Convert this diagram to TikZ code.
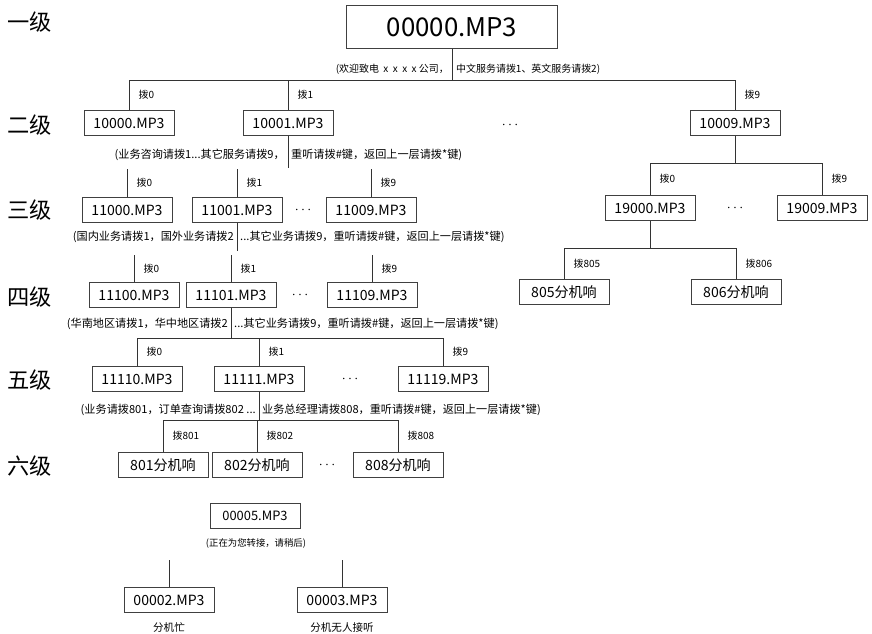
\documentclass[tikz,border=0pt]{standalone}
\usepackage{fontspec}
\setmainfont{Noto Sans CJK SC}
\usetikzlibrary{positioning}

\begin{document}
\begin{tikzpicture}[x=0.03cm, y=-0.03cm,
    box/.style={draw=black!75, line width=0.5pt, minimum width=2.7cm, minimum height=0.75cm, inner sep=0pt, font=\fontsize{12}{14}\selectfont},
    bigbox/.style={box, minimum width=6.33cm, minimum height=1.29cm, font=\fontsize{22}{26}\selectfont},
    tier/.style={anchor=west, inner sep=0pt, font=\fontsize{19}{22}\selectfont},
    hint/.style={inner sep=0pt, font=\fontsize{9.5}{11}\selectfont},
    dial/.style={anchor=west, inner sep=0pt, xshift=8pt, font=\fontsize{8.5}{10}\selectfont},
    gap/.style={inner sep=0pt, font=\fontsize{12}{14}\selectfont},
    link/.style={draw=black!80, line width=0.6pt}
]
\useasboundingbox (0,0) rectangle (872,633);

% level names
\node[tier] (lv1) at (7,22) {一级};
\node[tier] (lv2) at (7,125) {二级};
\node[tier] (lv3) at (7,210) {三级};
\node[tier] (lv4) at (7,297) {四级};
\node[tier] (lv5) at (7,380) {五级};
\node[tier] (lv6) at (7,466) {六级};

% first and second level
\node[bigbox] (m00000) at (452,27) {00000.MP3};
\node[hint, anchor=east, font=\fontsize{8.5}{10}\selectfont] (cap1l) at (449,69) {(欢迎致电\ \ x\ \ x\ \ x\ \ x\ 公司，};
\node[hint, anchor=west, font=\fontsize{8.5}{10}\selectfont] (cap1r) at (456,69) {中文服务请拨1、英文服务请拨2)};
\node[box] (m10000) at (129,123) {10000.MP3};
\node[box] (m10001) at (288,123) {10001.MP3};
\node[gap] (d2) at (510,125) {$\cdots$};
\node[box] (m10009) at (735,123) {10009.MP3};

\draw[link] (m00000.south) -- ++(0,32);
\draw[link] (m10000.north) -- node[dial]{拨0} ++(0,-30) -| node[dial, pos=0.75]{拨9} (m10009.north);
\draw[link] (m10001.north) -- node[dial]{拨1} ++(0,-30);

% third level
\node[hint, anchor=east] (cap2l) at (285,155) {(业务咨询请拨1...其它服务请拨9，};
\node[hint, anchor=west] (cap2r) at (291,155) {重听请拨\#键，返回上一层请拨*键)};
\node[box] (m11000) at (127,210) {11000.MP3};
\node[box] (m11001) at (237,210) {11001.MP3};
\node[gap] (d3) at (303,210) {$\cdots$};
\node[box] (m11009) at (371,210) {11009.MP3};

\draw[link] (m10001.south) -- ++(0,32);
\draw[link] (m11000.north) -- node[dial]{拨0} ++(0,-28);
\draw[link] (m11001.north) -- node[dial]{拨1} ++(0,-28);
\draw[link] (m11009.north) -- node[dial]{拨9} ++(0,-28);

% branch under 10009
\node[box] (m19000) at (650,208) {19000.MP3};
\node[gap] (d3r) at (735,208) {$\cdots$};
\node[box] (m19009) at (822,208) {19009.MP3};
\node[box] (m805) at (564,292) {805分机响};
\node[box] (m806) at (736,292) {806分机响};

\draw[link] (m10009.south) -- ++(0,28);
\draw[link] (m19000.north) -- node[dial]{拨0} ++(0,-32) -| node[dial, pos=0.75]{拨9} (m19009.north);
\draw[link] (m19000.south) -- ++(0,28);
\draw[link] (m805.north) -- node[dial]{拨805} ++(0,-31) -| node[dial, pos=0.75]{拨806} (m806.north);

% fourth level
\node[hint, anchor=east] (cap3l) at (234,237) {(国内业务请拨1，国外业务请拨2};
\node[hint, anchor=west] (cap3r) at (240,237) {...其它业务请拨9，重听请拨\#键，返回上一层请拨*键)};
\node[box] (m11100) at (134,295) {11100.MP3};
\node[box] (m11101) at (231,295) {11101.MP3};
\node[gap] (d4) at (300,295) {$\cdots$};
\node[box] (m11109) at (372,295) {11109.MP3};

\draw[link] (m11001.south) -- ++(0,28);
\draw[link] (m11100.north) -- node[dial]{拨0} ++(0,-27);
\draw[link] (m11101.north) -- node[dial]{拨1} ++(0,-27);
\draw[link] (m11109.north) -- node[dial]{拨9} ++(0,-27);

% fifth level
\node[hint, anchor=east] (cap4l) at (228,324) {(华南地区请拨1，华中地区请拨2};
\node[hint, anchor=west] (cap4r) at (234,324) {...其它业务请拨9，重听请拨\#键，返回上一层请拨*键)};
\node[box] (m11110) at (137,379) {11110.MP3};
\node[box] (m11111) at (259,379) {11111.MP3};
\node[gap] (d5) at (350,379) {$\cdots$};
\node[box] (m11119) at (443,379) {11119.MP3};

\draw[link] (m11101.south) -- ++(0,31);
\draw[link] (m11110.north) -- node[dial]{拨0} ++(0,-28) -| node[dial, pos=0.75]{拨9} (m11119.north);
\draw[link] (m11111.north) -- node[dial]{拨1} ++(0,-28);

% sixth level
\node[hint, anchor=east] (cap5l) at (256,410) {(业务请拨801，订单查询请拨802 ...};
\node[hint, anchor=west] (cap5r) at (262,410) {业务总经理请拨808，重听请拨\#键，返回上一层请拨*键)};
\node[box] (m801) at (163,465) {801分机响};
\node[box] (m802) at (257,465) {802分机响};
\node[gap] (d6) at (327,465) {$\cdots$};
\node[box] (m808) at (398,465) {808分机响};

\draw[link] (m11111.south) -- ++(0,29);
\draw[link] (m801.north) -- node[dial]{拨801} ++(0,-32) -| node[dial, pos=0.75]{拨808} (m808.north);
\draw[link] (m802.north) -- node[dial]{拨802} ++(0,-32);

% transfer
\node[box, font=\fontsize{11}{13}\selectfont] (m00005) at (255,516) {00005.MP3};
\node[hint, font=\fontsize{8}{10}\selectfont] (cap6) at (256,543) {(正在为您转接，请稍后)};
\node[box] (m00002) at (169,600) {00002.MP3};
\node[box] (m00003) at (342,600) {00003.MP3};
\node[hint, font=\fontsize{9}{11}\selectfont] (busy) at (169,627) {分机忙};
\node[hint, font=\fontsize{9}{11}\selectfont] (noans) at (342,627) {分机无人接听};

\draw[link] (m00002.north) -- ++(0,-27);
\draw[link] (m00003.north) -- ++(0,-27);
\end{tikzpicture}
\end{document}
